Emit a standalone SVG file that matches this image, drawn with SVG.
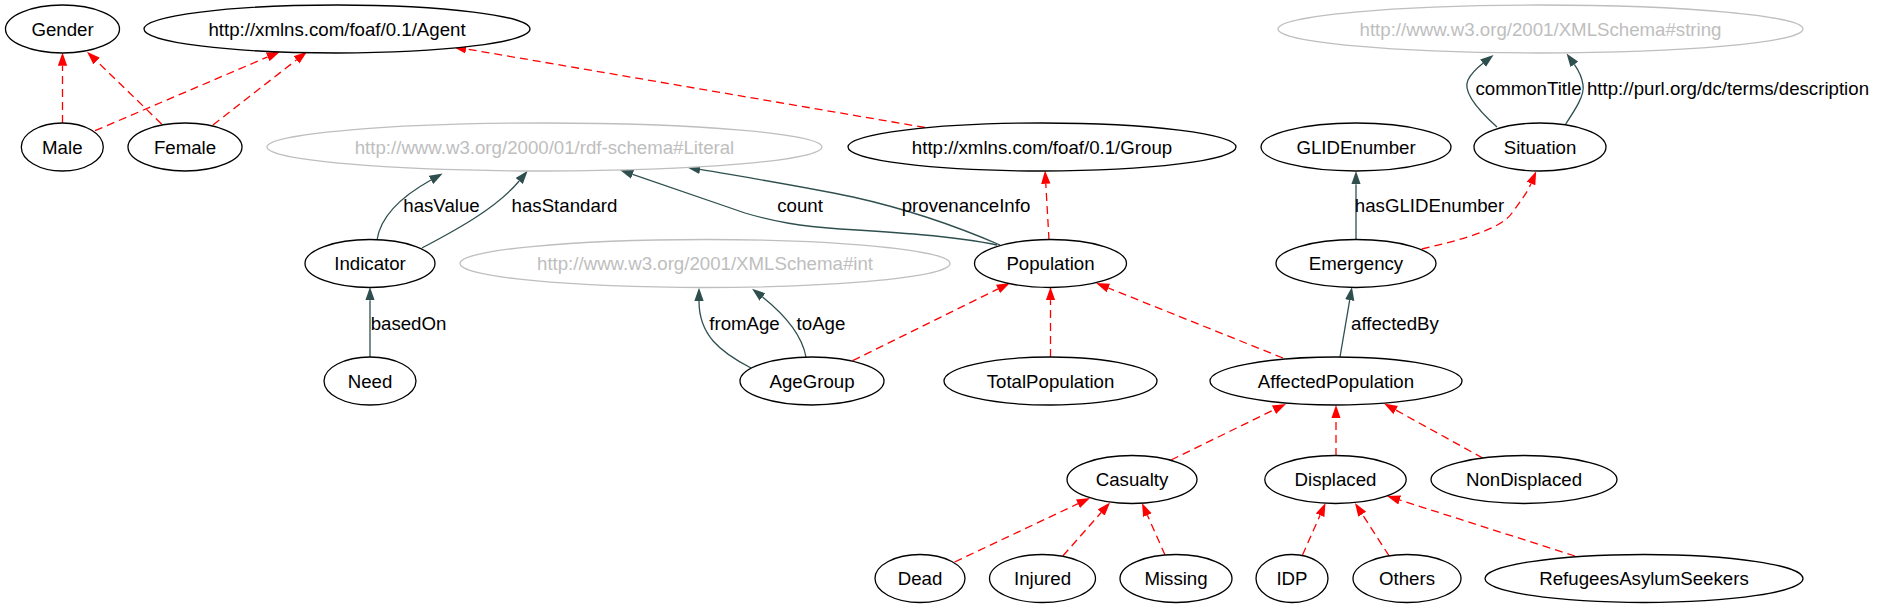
<svg xmlns="http://www.w3.org/2000/svg" width="1884" height="608" viewBox="0 0 1884 608">
<defs>
<style>
.n ellipse{fill:#fff;stroke:#000;stroke-width:1.3}
.g ellipse{fill:#fff;stroke:#bebebe;stroke-width:1.3}
text{font-family:"Liberation Sans",Arial,sans-serif;font-size:18.67px;text-anchor:middle;fill:#000}
.g text{fill:#bebebe}
.sub{fill:none;stroke:#ff0000;stroke-width:1.3;stroke-dasharray:8,5;marker-end:url(#ar)}
.prop{fill:none;stroke:#2f4f4f;stroke-width:1.3;marker-end:url(#ad)}
</style>
<marker id="ar" markerUnits="userSpaceOnUse" markerWidth="14" markerHeight="10" refX="0" refY="4.67" orient="auto" viewBox="0 0 14 9.34"><path d="M0,0 L13.33,4.67 L0,9.34 z" fill="#ff0000"/></marker>
<marker id="ad" markerUnits="userSpaceOnUse" markerWidth="14" markerHeight="10" refX="0" refY="4.67" orient="auto" viewBox="0 0 14 9.34"><path d="M0,0 L13.33,4.67 L0,9.34 z" fill="#2f4f4f"/></marker>
</defs>
<rect width="1884" height="608" fill="#fff"/>
<g id="edges">
<path class="sub" d="M62.5,123 L62.5,65.8"/>
<path class="sub" d="M161.6,124 L96.6,61"/>
<path class="sub" d="M95,130.7 L267.7,56.9"/>
<path class="sub" d="M213,125 L296.5,59.9"/>
<path class="sub" d="M925,127.5 L466.1,48.9"/>
<path class="sub" d="M1049,240 L1045.8,183.8"/>
<path class="sub" d="M1421.7,249 C1460,240 1500,230 1512,213 C1520,202 1527,193 1531,183.5"/>
<path class="sub" d="M852.7,360.7 L998,288.9"/>
<path class="sub" d="M1050.5,357 L1050.5,300.3"/>
<path class="sub" d="M1283,358 L1108.4,288"/>
<path class="sub" d="M1171,460 L1274,409.8"/>
<path class="sub" d="M1336,456 L1336,418.3"/>
<path class="sub" d="M1482.7,458 L1395.7,410"/>
<path class="sub" d="M954.6,562 L1078,503.7"/>
<path class="sub" d="M1063,555.7 L1101.2,512.5"/>
<path class="sub" d="M1165,555 L1147.4,515.2"/>
<path class="sub" d="M1302.5,555 L1320.1,515.2"/>
<path class="sub" d="M1389,555.7 L1362.2,514.2"/>
<path class="sub" d="M1575,556 L1399.7,500"/>
<path class="prop" d="M377,240 C380,220 395,200 431,180"/>
<path class="prop" d="M422,248 C450,233 495,210 519.2,181"/>
<path class="prop" d="M997,245 C955,236 890,232 840,229 C800,226 775,222 745,213 L632.6,174.3"/>
<path class="prop" d="M1000,245 C970,232 920,212 853,197 C800,186 750,178 700.1,169.4"/>
<path class="prop" d="M751,368 C720,352 699,335 699,301"/>
<path class="prop" d="M806,357 C802,335 785,315 762.5,297"/>
<path class="prop" d="M370,357 L370,300.3"/>
<path class="prop" d="M1356,240 L1356,184.3"/>
<path class="prop" d="M1340,357 L1349.7,300.1"/>
<path class="prop" d="M1497,127 C1478,110 1462,92 1468,80 C1472,72 1477,68 1483,63.3"/>
<path class="prop" d="M1565.7,124 C1575,110 1585,95 1583,85 C1582,77 1579,71 1574.3,64.4"/>
<text x="441.5" y="211.5">hasValue</text>
<text x="564.5" y="211.5">hasStandard</text>
<text x="800" y="211.5">count</text>
<text x="966" y="211.5">provenanceInfo</text>
<text x="408.5" y="329.5">basedOn</text>
<text x="744.5" y="329.5">fromAge</text>
<text x="821" y="329.5">toAge</text>
<text x="1429.5" y="211.5">hasGLIDEnumber</text>
<text x="1395" y="329.5">affectedBy</text>
<text x="1528.5" y="94.5">commonTitle</text>
<text x="1728" y="94.5">http://purl.org/dc/terms/description</text>
</g>
<g id="Gender" class="n"><ellipse cx="62.5" cy="29" rx="57" ry="24"/><text x="62.5" y="35.5">Gender</text></g>
<g id="Agent" class="n"><ellipse cx="337" cy="29" rx="193" ry="24"/><text x="337" y="35.5">http://xmlns.com/foaf/0.1/Agent</text></g>
<g id="String" class="g"><ellipse cx="1540.5" cy="29" rx="262.5" ry="24"/><text x="1540.5" y="35.5">http://www.w3.org/2001/XMLSchema#string</text></g>
<g id="Male" class="n"><ellipse cx="62.3" cy="147" rx="41" ry="24"/><text x="62.3" y="153.5">Male</text></g>
<g id="Female" class="n"><ellipse cx="185" cy="147" rx="57" ry="24"/><text x="185" y="153.5">Female</text></g>
<g id="Literal" class="g"><ellipse cx="544.5" cy="147" rx="277.5" ry="24"/><text x="544.5" y="153.5">http://www.w3.org/2000/01/rdf-schema#Literal</text></g>
<g id="Group" class="n"><ellipse cx="1042" cy="147" rx="194" ry="24"/><text x="1042" y="153.5">http://xmlns.com/foaf/0.1/Group</text></g>
<g id="GLIDEnumber" class="n"><ellipse cx="1356" cy="147" rx="95" ry="24"/><text x="1356" y="153.5">GLIDEnumber</text></g>
<g id="Situation" class="n"><ellipse cx="1540" cy="147" rx="66" ry="24"/><text x="1540" y="153.5">Situation</text></g>
<g id="Indicator" class="n"><ellipse cx="370" cy="263.5" rx="65" ry="24"/><text x="370" y="270">Indicator</text></g>
<g id="Int" class="g"><ellipse cx="705" cy="263.5" rx="245" ry="24"/><text x="705" y="270">http://www.w3.org/2001/XMLSchema#int</text></g>
<g id="Population" class="n"><ellipse cx="1050.5" cy="263.5" rx="76" ry="24"/><text x="1050.5" y="270">Population</text></g>
<g id="Emergency" class="n"><ellipse cx="1356" cy="263.5" rx="80" ry="24"/><text x="1356" y="270">Emergency</text></g>
<g id="Need" class="n"><ellipse cx="370" cy="381" rx="46" ry="24"/><text x="370" y="387.5">Need</text></g>
<g id="AgeGroup" class="n"><ellipse cx="812" cy="381" rx="72" ry="24"/><text x="812" y="387.5">AgeGroup</text></g>
<g id="TotalPopulation" class="n"><ellipse cx="1050.5" cy="381" rx="106.5" ry="24"/><text x="1050.5" y="387.5">TotalPopulation</text></g>
<g id="AffectedPopulation" class="n"><ellipse cx="1336" cy="381" rx="126" ry="24"/><text x="1336" y="387.5">AffectedPopulation</text></g>
<g id="Casualty" class="n"><ellipse cx="1132" cy="479.5" rx="65" ry="24"/><text x="1132" y="486">Casualty</text></g>
<g id="Displaced" class="n"><ellipse cx="1335.5" cy="479.5" rx="70.7" ry="24"/><text x="1335.5" y="486">Displaced</text></g>
<g id="NonDisplaced" class="n"><ellipse cx="1524" cy="479.5" rx="93" ry="24"/><text x="1524" y="486">NonDisplaced</text></g>
<g id="Dead" class="n"><ellipse cx="920" cy="578.5" rx="45" ry="24"/><text x="920" y="585">Dead</text></g>
<g id="Injured" class="n"><ellipse cx="1042.5" cy="578.5" rx="53" ry="24"/><text x="1042.5" y="585">Injured</text></g>
<g id="Missing" class="n"><ellipse cx="1176" cy="578.5" rx="56" ry="24"/><text x="1176" y="585">Missing</text></g>
<g id="IDP" class="n"><ellipse cx="1292" cy="578.5" rx="36" ry="24"/><text x="1292" y="585">IDP</text></g>
<g id="Others" class="n"><ellipse cx="1407" cy="578.5" rx="54" ry="24"/><text x="1407" y="585">Others</text></g>
<g id="RefugeesAsylumSeekers" class="n"><ellipse cx="1644" cy="578.5" rx="159" ry="24"/><text x="1644" y="585">RefugeesAsylumSeekers</text></g>
</svg>
